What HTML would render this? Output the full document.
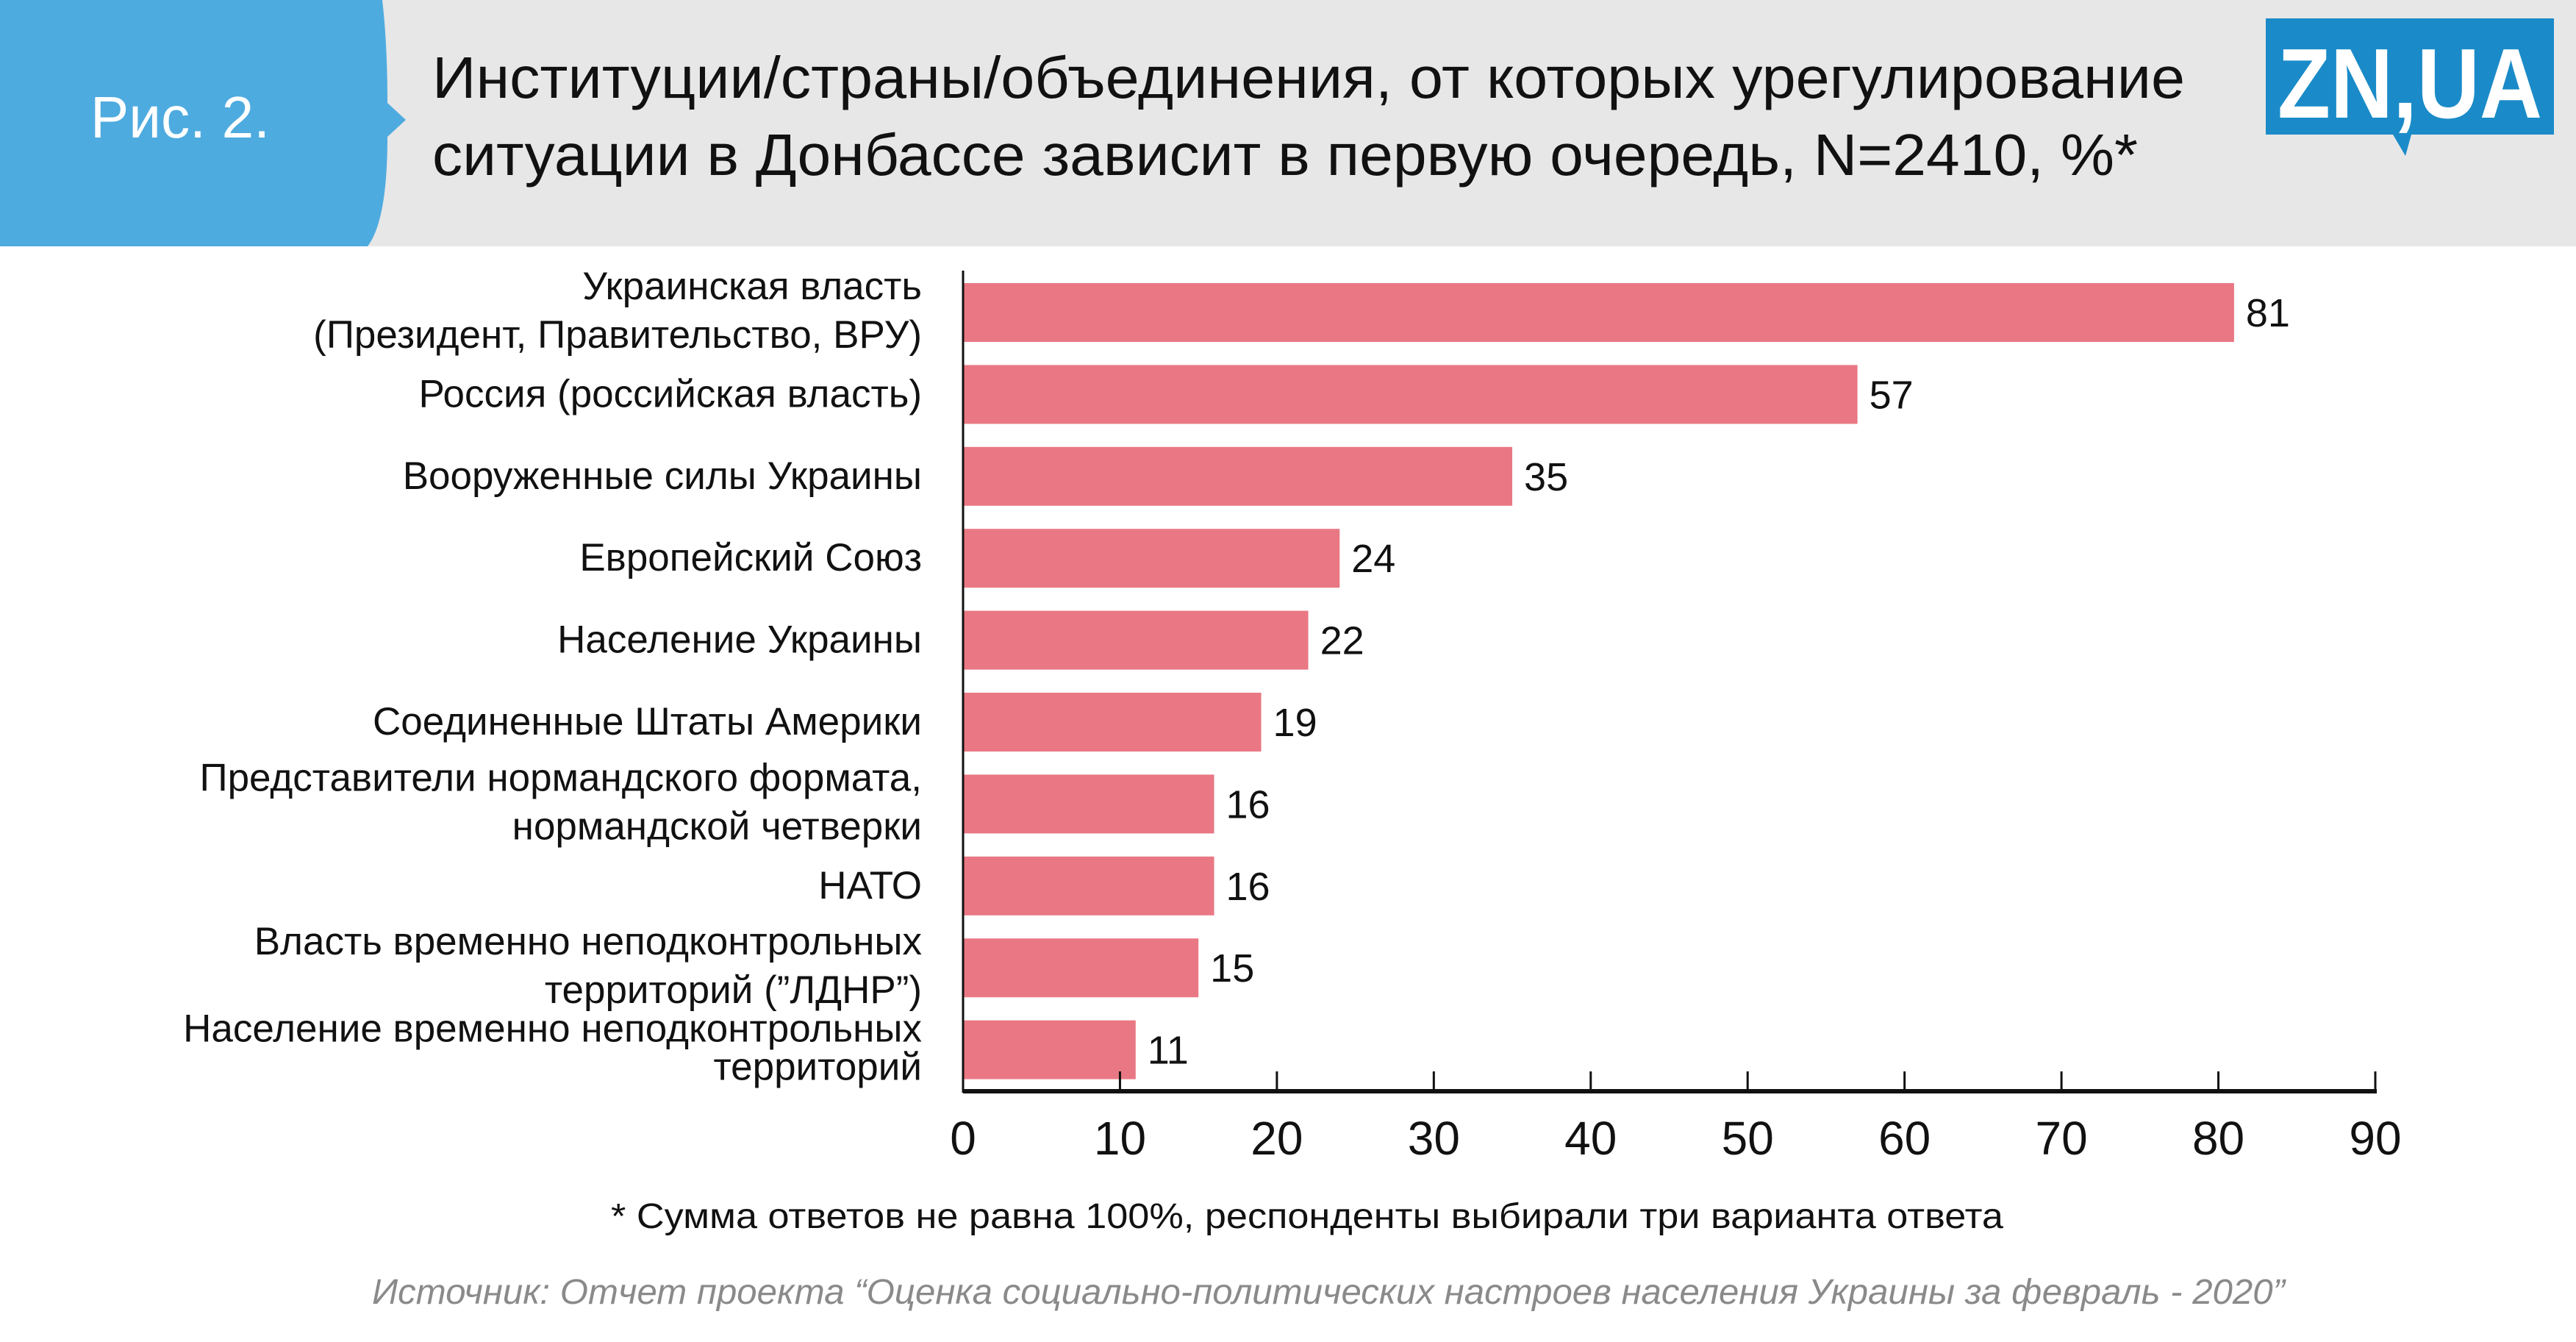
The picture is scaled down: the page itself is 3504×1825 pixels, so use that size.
<!DOCTYPE html>
<html><head><meta charset="utf-8"><style>
html,body{margin:0;padding:0;background:#fff;}
svg{display:block;font-family:"Liberation Sans",sans-serif;}
</style></head><body>
<svg id="chart" width="3504" height="1825" viewBox="0 0 3504 1825" xmlns="http://www.w3.org/2000/svg">
<rect x="0" y="0" width="3504" height="335" fill="#e7e7e7"/>
<path d="M0 0 H520 Q527 60 527 140 L552 163 L527 186 Q527 300 500 335 H0 Z" fill="#4eabdf"/>
<text x="123" y="187" font-size="80" fill="#fff" textLength="244" lengthAdjust="spacingAndGlyphs">Рис. 2.</text>
<text x="588" y="133" font-size="80" fill="#111" textLength="2384" lengthAdjust="spacingAndGlyphs">Институции/страны/объединения, от которых урегулирование</text>
<text x="588" y="238" font-size="80" fill="#111" textLength="2320" lengthAdjust="spacingAndGlyphs">ситуации в Донбассе зависит в первую очередь, N=2410, %*</text>
<g>
<rect x="3082" y="25" width="392" height="158" fill="#1a8bc8"/>
<path d="M3255 183 L3280 183 L3272 212 Z" fill="#1a8bc8"/>
<text x="3278" y="160" font-size="135" font-weight="bold" fill="#fff" text-anchor="middle" textLength="360" lengthAdjust="spacingAndGlyphs">ZN,UA</text>
</g>
<g id="plot"></g>
<text x="831" y="1670" font-size="48" fill="#111" textLength="1894" lengthAdjust="spacingAndGlyphs">* Сумма ответов не равна 100%, респонденты выбирали три варианта ответа</text>
<text x="506" y="1773" font-size="48" font-style="italic" fill="#8a8a8a" textLength="2602" lengthAdjust="spacingAndGlyphs">Источник: Отчет проекта “Оценка социально-политических настроев населения Украины за февраль - 2020”</text>
</svg>
<script>
const categories = [
  ["Украинская власть","(Президент, Правительство, ВРУ)"],
  ["Россия (российская власть)"],
  ["Вооруженные силы Украины"],
  ["Европейский Союз"],
  ["Население Украины"],
  ["Соединенные Штаты Америки"],
  ["Представители нормандского формата,","нормандской четверки "],
  ["НАТО"],
  ["Власть временно неподконтрольных","территорий (”ЛДНР”)"],
  ["Население временно неподконтрольных","территорий"]
];
const values = [81,57,35,24,22,19,16,16,15,11];
const tickLabels = ["0","10","20","30","40","50","60","70","80","90"];
const ticks = [0,10,20,30,40,50,60,70,80,90];

const NS="http://www.w3.org/2000/svg";
const g=document.getElementById('plot');
const x0=1310, x1=3231, xMax=90;
const xs=v=>x0+(v/xMax)*(x1-x0);
const y0=425, step=111.4, bh=80;
const ys=i=>y0+i*step;
function mk(t,a){const e=document.createElementNS(NS,t);for(const k in a)e.setAttribute(k,a[k]);g.appendChild(e);return e;}
values.forEach((v,i)=>{
  const r=mk('rect',{x:x0,y:ys(i)-bh/2,width:xs(v)-x0,height:bh,fill:'#e97884'});
  
  
  const t=mk('text',{x:xs(v)+16,y:ys(i)+19,'font-size':54,fill:'#111'});
  t.textContent=v;
  
  
  const lines=categories[i];
  const last=i===values.length-1;
  lines.forEach((ln,j)=>{
    const off=lines.length===1?17:(j===0?(last?-11:-18):(last?41:48));
    const c=mk('text',{x:1254,y:ys(i)+off,'font-size':53,fill:'#111','text-anchor':'end'});
    c.textContent=ln;
    
    
  });
});
const ya=mk('line',{x1:x0,y1:368,x2:x0,y2:1486,stroke:'#111','stroke-width':3});


ticks.forEach((tv,i)=>{
  const l=mk('line',{x1:xs(tv),y1:1457,x2:xs(tv),y2:1484,stroke:'#111','stroke-width':3});
  
  
  const t=mk('text',{x:xs(tv),y:1570,'font-size':64,fill:'#111','text-anchor':'middle'});
  t.textContent=tickLabels[i];
  
  
});
const xa=mk('line',{x1:x0,y1:1484,x2:x1+2,y2:1484,stroke:'#111','stroke-width':6});


</script>
</body></html>
